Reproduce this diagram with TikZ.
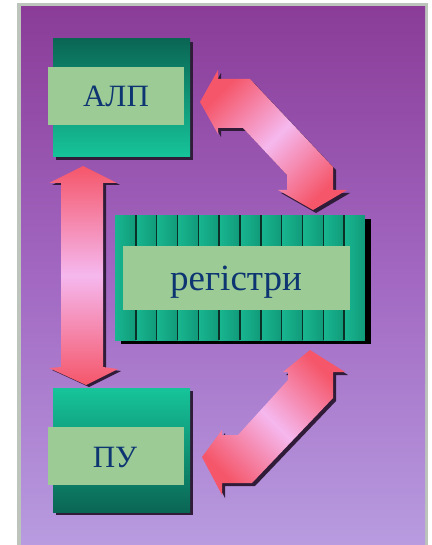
\documentclass[tikz,border=0pt]{standalone}
\usepackage{fontspec}
\setmainfont{Liberation Serif}
\definecolor{bgtop}{HTML}{8A3C98}
\definecolor{bgmid}{HTML}{A268C2}
\definecolor{bgbot}{HTML}{B89CE0}
\definecolor{frame}{HTML}{BCC4BC}
\definecolor{gdark}{HTML}{0A6654}
\definecolor{glight}{HTML}{16C49A}
\definecolor{rega}{HTML}{18B690}
\definecolor{regb}{HTML}{119A7A}
\definecolor{regline}{HTML}{0A3028}
\definecolor{lab}{HTML}{9DCB95}
\definecolor{txt}{HTML}{0C3572}
\definecolor{ared}{HTML}{F5566A}
\definecolor{apink}{HTML}{F5B8EE}
\definecolor{shad}{HTML}{301C38}
\tikzset{
  labelbox/.style={fill=lab, draw=none, inner sep=0pt},
  labeltext/.style={text=txt, inner sep=0pt, anchor=base},
  arrowshadow/.style={fill=shad, draw=none},
  arrowfill/.style={shading=axis, top color=ared, bottom color=ared, middle color=apink},
}
\begin{document}
\begin{tikzpicture}[x=1pt,y=-1pt]
\useasboundingbox (0,0) rectangle (431,545);
% frame and background
\fill[frame] (17,3) rectangle (428,548);
\shade[top color=bgtop, bottom color=bgbot, middle color=bgmid, draw=none] (21,7) rectangle (425,548);

% ALP block
\fill[shad] (56,42) rectangle (193,160);
\shade[top color=gdark, bottom color=glight] (53,39) rectangle (190,157);
\node[labelbox, minimum width=136pt, minimum height=58pt, anchor=north west] (alpbox) at (48,67) {};
\node[labeltext, font=\fontsize{31}{31}\selectfont] (alp) at (116,107) {АЛП};

% PU block
\fill[shad] (56,391) rectangle (193,515);
\shade[top color=glight, bottom color=gdark] (53,388) rectangle (190,512);
\node[labelbox, minimum width=136pt, minimum height=58pt, anchor=north west] (pubox) at (48,427) {};
\node[labeltext, font=\fontsize{31}{31}\selectfont] (pu) at (115,467) {ПУ};

% register block
\fill[black] (121,219) rectangle (371,344);
\foreach \i in {0,...,11} {
  \shade[left color=rega, right color=regb] ({115+\i*20.83},215) rectangle ({115+(\i+1)*20.83},340);
}
\foreach \i in {1,...,11} {
  \draw[regline, line width=1.6pt] ({115+\i*20.83},215) -- ({115+\i*20.83},340);
}
\node[labelbox, minimum width=227pt, minimum height=64pt, anchor=north west] (regbox) at (123,246) {};
\node[labeltext, font=\fontsize{37}{37}\selectfont] (reg) at (236,290) {регістри};

% left double arrow
\begin{scope}[shift={(3,2)}]
\fill[arrowshadow] (49,183) -- (83,166) -- (117,183) -- (103,183) -- (103,367) -- (118,369) -- (86,385) -- (49,368) -- (61,367) -- (61,183) -- cycle;
\end{scope}
\shade[arrowfill]
  (49,183) -- (83,166) -- (117,183) -- (103,183) -- (103,367) -- (118,369) -- (86,385) -- (49,368) -- (61,367) -- (61,183) -- cycle;

% top-right bent arrow (ALP <-> registers)
\begin{scope}[shift={(3,3)}]
\fill[arrowshadow] (200,102) -- (218,70) -- (218,79) -- (250,79) -- (333,167) -- (333,190) -- (347,190) -- (313,210) -- (278,190) -- (287,190) -- (287,175) -- (243,128) -- (218,128) -- (218,134) -- cycle;
\end{scope}
\shade[arrowfill, shading angle=45]
  (200,102) -- (218,70) -- (218,79) -- (250,79) -- (333,167) -- (333,190) -- (347,190) -- (313,210) -- (278,190) -- (287,190) -- (287,175) -- (243,128) -- (218,128) -- (218,134) -- cycle;

% bottom-right bent arrow (registers <-> PU)
\begin{scope}[shift={(3,3)}]
\fill[arrowshadow] (310,350) -- (345,372) -- (333,372) -- (333,398) -- (252,483) -- (222,483) -- (222,495) -- (202,457) -- (222,430) -- (222,435) -- (238,435) -- (288,380) -- (288,372) -- (283,372) -- cycle;
\end{scope}
\shade[arrowfill, shading angle=-45]
  (310,350) -- (345,372) -- (333,372) -- (333,398) -- (252,483) -- (222,483) -- (222,495) -- (202,457) -- (222,430) -- (222,435) -- (238,435) -- (288,380) -- (288,372) -- (283,372) -- cycle;
\end{tikzpicture}
\end{document}
